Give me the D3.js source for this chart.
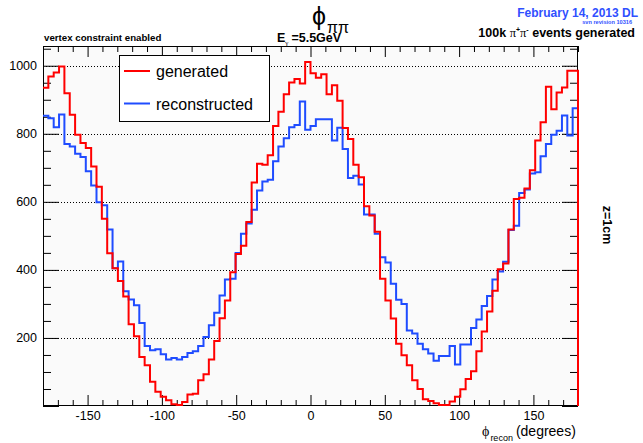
<!DOCTYPE html>
<html>
<head>
<meta charset="utf-8">
<script src="https://cdn.jsdelivr.net/npm/d3@7"></script>
<style>
html,body{margin:0;padding:0;background:#fff;}
svg{display:block;}
text{font-family:"Liberation Sans",Arial,Helvetica,sans-serif;}
</style>
</head>
<body>
<script>
// ---- data (100 bins of 3.6 degrees from -180 to 180) ----
const binLow = -180;
const binWidth = 3.6;
const generated = [
 935,968,980,998,919,856,797,773,758,704,
 644,550,449,405,367,322,240,205,144,120,
 71,42,27,17,5,3,12,34,36,76,
 93,137,191,258,310,393,447,471,541,657,
 712,709,737,823,865,916,951,961,948,1011,
 978,965,975,916,943,897,817,785,709,672,
 587,560,512,374,310,257,183,149,120,76,
 50,20,15,8,3,3,13,27,49,79,
 102,161,219,278,339,402,419,519,608,612,
 639,693,780,834,938,872,921,936,985,985
];
const reconstructed = [
 853,846,819,857,770,763,741,732,690,648,
 599,590,519,405,425,337,313,296,244,176,
 164,167,152,137,141,137,144,156,161,176,
 203,237,274,325,372,374,450,506,536,577,
 633,660,665,719,763,787,819,826,895,812,
 823,843,843,843,780,818,755,670,677,651,
 563,563,506,437,422,359,312,300,222,213,
 183,167,154,133,147,147,176,122,181,181,
 229,254,294,323,372,395,424,517,530,626,
 636,683,687,734,770,797,809,854,795,875
];
const xTicksMajor = [-150,-100,-50,0,50,100,150];
const yTicksMajor = [0,200,400,600,800,1000];
const xDomain = [-180,180];
const yDomain = [0,1058];
const legendLabels = ["generated","reconstructed"];

// ---- layout ----
const W = 643, H = 443;
const L = 43, R = 578, T = 46, B = 406;
const svg = d3.select("body").append("svg").attr("width",W).attr("height",H);

const x = d3.scaleLinear().domain(xDomain).range([L,R]);
const y = d3.scaleLinear().domain(yDomain).range([B,T]);

// plot background
svg.append("rect").attr("x",L).attr("y",T).attr("width",R-L).attr("height",B-T)
  .attr("fill","#fafafa");

// gridlines (horizontal, dotted)
svg.append("g").selectAll("line").data(yTicksMajor.filter(d=>d>0)).join("line")
  .attr("x1",L).attr("x2",R).attr("y1",d=>Math.round(y(d))+0.5).attr("y2",d=>Math.round(y(d))+0.5)
  .attr("stroke","#000").attr("stroke-width",1).attr("stroke-dasharray","1,2");

// minor tick values
const xMinor = d3.range(-180,181,10).filter(d=>!xTicksMajor.includes(d));
const yMinor = d3.range(0,1058,50).filter(d=>!yTicksMajor.includes(d));

function styleAxis(g){
  g.select(".domain").remove();
  g.selectAll(".tick line").attr("stroke","#000").attr("stroke-width",1);
  g.selectAll(".tick text").attr("font-size","12.5px").attr("fill","#000")
    .attr("font-family","'Liberation Sans',Arial,sans-serif");
}

// bottom axis
svg.append("g").attr("transform",`translate(0,${B})`)
  .call(d3.axisBottom(x).tickValues(xMinor).tickSize(-6).tickFormat("")).call(styleAxis);
svg.append("g").attr("transform",`translate(0,${B})`)
  .call(d3.axisBottom(x).tickValues(xTicksMajor).tickSize(-11).tickPadding(5).tickFormat(d=>String(d)))
  .call(styleAxis);
// top axis
svg.append("g").attr("transform",`translate(0,${T})`)
  .call(d3.axisTop(x).tickValues(xMinor).tickSize(-6).tickFormat("")).call(styleAxis);
svg.append("g").attr("transform",`translate(0,${T})`)
  .call(d3.axisTop(x).tickValues(xTicksMajor).tickSize(-11).tickFormat("")).call(styleAxis);
// left axis
svg.append("g").attr("transform",`translate(${L},0)`)
  .call(d3.axisLeft(y).tickValues(yMinor).tickSize(-8).tickFormat("")).call(styleAxis);
svg.append("g").attr("transform",`translate(${L},0)`)
  .call(d3.axisLeft(y).tickValues(yTicksMajor).tickSize(-16).tickPadding(6)
    .tickFormat(d=>d===0?"":String(d))).call(styleAxis);
// right axis
svg.append("g").attr("transform",`translate(${R},0)`)
  .call(d3.axisRight(y).tickValues(yMinor).tickSize(-8).tickFormat("")).call(styleAxis);
svg.append("g").attr("transform",`translate(${R},0)`)
  .call(d3.axisRight(y).tickValues(yTicksMajor).tickSize(-16).tickFormat("")).call(styleAxis);

// frame
svg.append("rect").attr("x",L+0.5).attr("y",T+0.5).attr("width",R-L-1).attr("height",B-T-1)
  .attr("fill","none").attr("stroke","#000").attr("stroke-width",1);

// histograms
function histPath(vals){
  let p = `M${x(binLow)},${y(vals[0])}`;
  vals.forEach((v,i)=>{
    const x0 = binLow + i*binWidth, x1 = x0 + binWidth;
    p += `V${y(v)}H${x(x1)}`;
  });
  p += `V${y(0)}`;
  return p;
}
const blueColor = "#1f4cff", redColor = "#ff0000";
svg.append("path").attr("d",histPath(reconstructed)).attr("fill","none")
  .attr("stroke",blueColor).attr("stroke-width",2).attr("stroke-linejoin","miter");
svg.append("path").attr("d",histPath(generated)).attr("fill","none")
  .attr("stroke",redColor).attr("stroke-width",2).attr("stroke-linejoin","miter");

// legend
const lg = svg.append("g");
lg.append("rect").attr("x",119.5).attr("y",55.5).attr("width",150).attr("height",66)
  .attr("fill","#fff").attr("stroke","#000").attr("stroke-width",1);
const lgColors = [redColor, blueColor];
legendLabels.forEach((lab,i)=>{
  const cy = 71 + i*32.5;
  lg.append("line").attr("x1",124).attr("x2",150).attr("y1",cy).attr("y2",cy)
    .attr("stroke",lgColors[i]).attr("stroke-width",2);
  lg.append("text").attr("x",156).attr("y",cy+6).attr("font-size","16px").attr("fill","#000").text(lab);
});

// title
svg.append("text").attr("x",312).attr("y",25).attr("font-family","'Liberation Serif','Times New Roman',serif")
  .attr("font-size","25px").text("ϕ");
svg.append("text").attr("x",327).attr("y",33).attr("font-family","'Liberation Serif','Times New Roman',serif")
  .attr("font-size","16px").text("ππ");

// E_gamma
const eg = svg.append("text").attr("x",277).attr("y",42).attr("font-weight","bold").attr("font-size","12.5px");
eg.append("tspan").text("E");
eg.append("tspan").attr("font-size","7px").attr("dy",3).attr("font-family","'Liberation Serif',serif").attr("font-weight","normal").text("γ");
eg.append("tspan").attr("dy",-3).attr("dx",3).text("=5.5GeV");

// left header
svg.append("text").attr("x",44).attr("y",41).attr("font-weight","bold").attr("font-size","9.7px")
  .text("vertex constraint enabled");

// right headers
svg.append("text").attr("x",638).attr("y",17).attr("text-anchor","end").attr("font-weight","bold")
  .attr("font-size","12px").attr("fill","#3050ff").text("February 14, 2013 DL");
svg.append("text").attr("x",632).attr("y",24).attr("text-anchor","end").attr("font-weight","bold")
  .attr("font-size","5.6px").attr("fill","#3050ff").text("svn revision 10316");
const ev = svg.append("text").attr("x",635).attr("y",36.5).attr("text-anchor","end")
  .attr("font-weight","bold").attr("font-size","12.5px");
ev.append("tspan").text("100k ");
ev.append("tspan").attr("font-family","'Liberation Serif',serif").attr("font-weight","normal").text("π");
ev.append("tspan").attr("font-size","7px").attr("dy",-5).text("+");
ev.append("tspan").attr("dy",5).attr("font-family","'Liberation Serif',serif").attr("font-weight","normal").text("π");
ev.append("tspan").attr("font-size","7px").attr("dy",-5).text("-");
ev.append("tspan").attr("dy",5).text(" events generated");

// x axis title
const xt = svg.append("text").attr("x",482).attr("y",436).attr("font-size","14px");
xt.append("tspan").attr("font-family","'Liberation Serif',serif").attr("font-size","14px").text("ϕ");
xt.append("tspan").attr("font-size","9px").attr("dy",5).attr("dx",1).text("recon");
xt.append("tspan").attr("dy",-5).attr("dx",3).text("(degrees)");

// right side label
svg.append("text").attr("transform","translate(603,225) rotate(90)").attr("text-anchor","middle")
  .attr("font-weight","bold").attr("font-size","12.5px").text("z=1cm");
</script>
</body>
</html>
